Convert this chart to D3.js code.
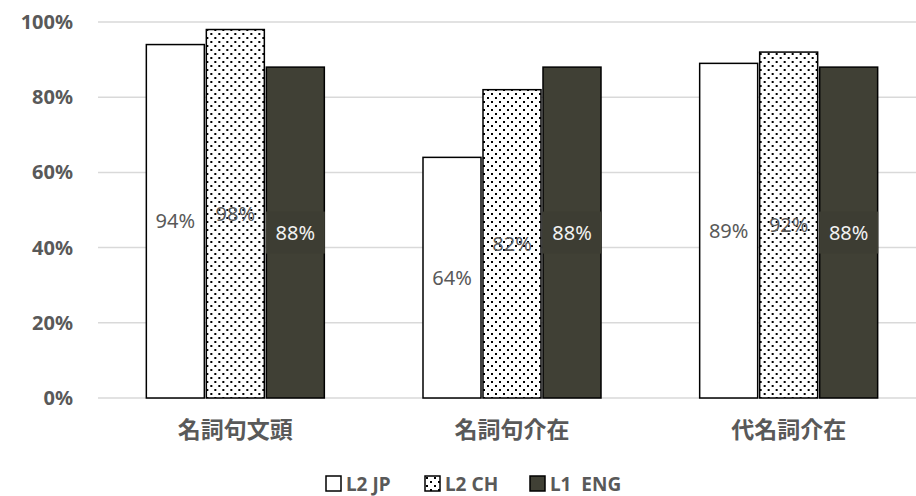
<!DOCTYPE html>
<html>
<head>
<meta charset="utf-8">
<script src="https://cdn.jsdelivr.net/npm/d3@7"></script>
<style>
  body { margin: 0; background: #fff; }
  text { font-family: "Noto Sans", "Noto Sans CJK JP", sans-serif; }
</style>
</head>
<body>
<div id="chart"></div>
<script>
// chart data
var categories = ["名詞句文頭", "名詞句介在", "代名詞介在"];
var seriesNames = ["L2 JP", "L2 CH", "L1  ENG"];
var jpValues = [94, 64, 89];
var chValues = [98, 82, 92];
var engValues = [88, 88, 88];
var yTicks = [0, 20, 40, 60, 80, 100];

var allValues = [jpValues, chValues, engValues];

var svgWidth = 916;
var svgHeight = 496;

var svg = d3.select("#chart")
    .append("svg")
    .attr("width", svgWidth)
    .attr("height", svgHeight);

// dotted pattern for L2 CH
var defs = svg.append("defs");
var pattern = defs.append("pattern")
    .attr("id", "dots")
    .attr("patternUnits", "userSpaceOnUse")
    .attr("width", 8)
    .attr("height", 8);
pattern.append("rect").attr("width", 8).attr("height", 8).attr("fill", "#fff");
pattern.append("rect").attr("x", 1).attr("y", 1).attr("width", 2).attr("height", 2).attr("fill", "#000");
pattern.append("rect").attr("x", 5).attr("y", 5).attr("width", 2).attr("height", 2).attr("fill", "#000");

var fills = ["#ffffff", "url(#dots)", "#404035"];

var x0 = d3.scaleBand()
    .domain(categories)
    .range([97, 927]);

var x1 = d3.scaleBand()
    .domain(d3.range(seriesNames.length))
    .range([0, 180]);

var y = d3.scaleLinear()
    .domain([0, 100])
    .range([398, 22]);

// gridlines
svg.append("g").selectAll("line")
    .data(yTicks)
    .enter()
    .append("line")
    .attr("x1", 98)
    .attr("x2", svgWidth)
    .attr("y1", d => y(d))
    .attr("y2", d => y(d))
    .attr("stroke", "#d9d9d9")
    .attr("stroke-width", 1.5);

// y axis labels
var yAxis = svg.append("g")
    .attr("transform", "translate(73,0)")
    .call(d3.axisLeft(y).tickValues(yTicks).tickSize(0).tickPadding(0).tickFormat(d => d + "%"));
yAxis.select(".domain").remove();
yAxis.selectAll("text")
    .attr("fill", "#595959")
    .attr("font-size", 20)
    .attr("font-weight", "bold")
    .style("font-family", "'Noto Sans', sans-serif");

// x axis labels
var xAxis = svg.append("g")
    .attr("transform", "translate(0,398)")
    .call(d3.axisBottom(x0).tickSize(0).tickPadding(24));
xAxis.select(".domain").remove();
xAxis.selectAll("text")
    .attr("fill", "#595959")
    .attr("font-size", 23)
    .attr("font-weight", "bold")
    .style("font-family", "'Noto Sans CJK JP', sans-serif");

var groupOffset = (x0.bandwidth() - 180) / 2;

// bars
var groups = svg.append("g").selectAll("g")
    .data(categories)
    .enter()
    .append("g")
    .attr("transform", d => `translate(${x0(d) + groupOffset},0)`);

groups.selectAll("rect")
    .data((d, i) => allValues.map((vals, s) => ({ s: s, v: vals[i] })))
    .enter()
    .append("rect")
    .attr("x", d => x1(d.s) + 1)
    .attr("y", d => y(d.v))
    .attr("width", x1.bandwidth() - 2)
    .attr("height", d => y(0) - y(d.v))
    .attr("fill", d => fills[d.s])
    .attr("stroke", "#000")
    .attr("stroke-width", 1.5);

// label box on dark bars
groups.selectAll("rect.lblbox")
    .data((d, i) => allValues.map((vals, s) => ({ s: s, v: vals[i] })).filter(d => d.s === 2))
    .enter()
    .append("rect")
    .attr("class", "lblbox")
    .attr("x", d => x1(d.s) + 0.5)
    .attr("y", d => (y(d.v) + y(0)) / 2 - 21)
    .attr("width", x1.bandwidth() - 1)
    .attr("height", 42)
    .attr("fill", "#3d3d33");

// value labels
groups.selectAll("text")
    .data((d, i) => allValues.map((vals, s) => ({ s: s, v: vals[i] })))
    .enter()
    .append("text")
    .attr("x", d => x1(d.s) + x1.bandwidth() / 2)
    .attr("y", d => (y(d.v) + y(0)) / 2)
    .attr("dy", "0.35em")
    .attr("text-anchor", "middle")
    .attr("font-size", 20)
    .attr("fill", d => d.s === 2 ? "#f2f2f2" : "#595959")
    .text(d => d.v + "%");

// legend
var legendX = [326, 425, 530];
var legend = svg.append("g").selectAll("g")
    .data(seriesNames)
    .enter()
    .append("g")
    .attr("transform", (d, i) => `translate(${legendX[i]},476)`);

legend.append("rect")
    .attr("width", 15)
    .attr("height", 15)
    .attr("fill", (d, i) => fills[i])
    .attr("stroke", "#000")
    .attr("stroke-width", 1.5);

legend.append("text")
    .attr("x", 20)
    .attr("y", 8)
    .attr("dy", "0.35em")
    .attr("font-size", 19)
    .attr("font-weight", "bold")
    .attr("fill", "#595959")
    .style("white-space", "pre")
    .text(d => d);
</script>
</body>
</html>
